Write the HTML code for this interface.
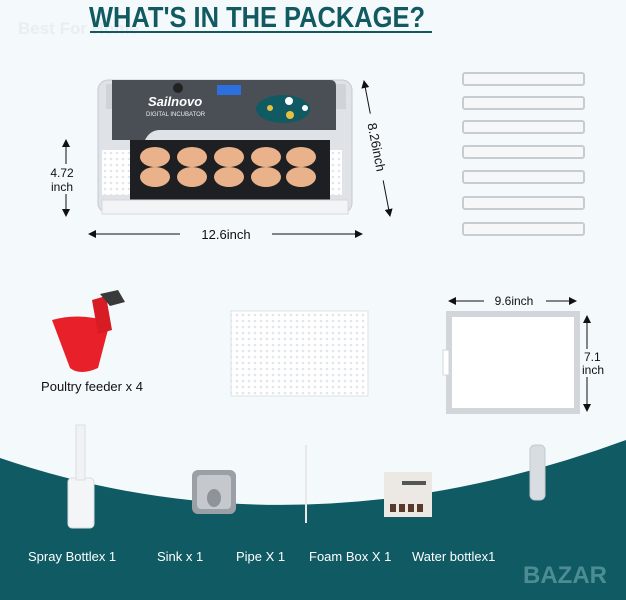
<!DOCTYPE html>
<html><head><meta charset="utf-8"><style>
body{margin:0;width:626px;height:600px;overflow:hidden;background:#f4f9fc;font-family:"Liberation Sans",sans-serif}
svg{display:block}
</style></head><body>
<svg width="626" height="600" viewBox="0 0 626 600" xmlns="http://www.w3.org/2000/svg" font-family="Liberation Sans, sans-serif">
<defs>
<marker id="a" markerWidth="8" markerHeight="8" refX="7" refY="4" orient="auto-start-reverse"><path d="M0,0 L8,4 L0,8 Z" fill="#111"/></marker>
<pattern id="g" width="6" height="6" patternUnits="userSpaceOnUse"><rect width="6" height="6" fill="#fff"/><circle cx="3" cy="3" r="1.3" fill="#e2e6ea"/></pattern>
</defs>
<rect width="626" height="600" fill="#f4f9fc"/>
<text x="18" y="34" font-size="17" font-weight="bold" fill="#e9eef1">Best For Home</text>
<text x="257" y="27" text-anchor="middle" font-size="29" font-weight="bold" fill="#125a62" textLength="336" lengthAdjust="spacingAndGlyphs">WHAT'S IN THE PACKAGE?</text>
<rect x="90" y="31" width="342" height="2" fill="#125a62"/>
<!-- band -->
<path d="M0 458 Q300 560 626 440 L626 600 L0 600Z" fill="#0f5a63"/>
<!-- incubator -->
<rect x="98" y="80" width="254" height="133" rx="10" fill="#dfe3e7" stroke="#c4cad0"/>
<rect x="106" y="84" width="240" height="25" fill="#cfd4d9"/>
<path d="M112 80 H330 Q336 80 336 86 V130 H160 Q150 130 145 140 H112Z" fill="#4a4f56"/>
<rect x="217" y="85" width="24" height="10" fill="#2e6fe0"/>
<circle cx="178" cy="88" r="5" fill="#222"/>
<text x="148" y="106" font-size="13" font-style="italic" font-weight="bold" fill="#fff">Sailnovo</text>
<text x="146" y="116" font-size="6" fill="#eee">DIGITAL INCUBATOR</text>
<ellipse cx="283" cy="109" rx="27" ry="14" fill="#0f5a63"/>
<circle cx="289" cy="101" r="4" fill="#fff"/><circle cx="290" cy="115" r="4" fill="#e8c040"/><circle cx="270" cy="108" r="3" fill="#e8c040"/><circle cx="305" cy="108" r="3" fill="#fff"/>
<rect x="102" y="150" width="240" height="45" fill="url(#g)"/>
<rect x="130" y="140" width="200" height="60" fill="#1e1f22"/>
<g fill="#eab28a">
<ellipse cx="155" cy="157" rx="15" ry="10"/><ellipse cx="192" cy="157" rx="15" ry="10"/><ellipse cx="229" cy="157" rx="15" ry="10"/><ellipse cx="266" cy="157" rx="15" ry="10"/><ellipse cx="301" cy="157" rx="15" ry="10"/>
<ellipse cx="155" cy="177" rx="15" ry="10"/><ellipse cx="192" cy="177" rx="15" ry="10"/><ellipse cx="229" cy="177" rx="15" ry="10"/><ellipse cx="266" cy="177" rx="15" ry="10"/><ellipse cx="301" cy="177" rx="15" ry="10"/>
</g>
<rect x="102" y="200" width="246" height="14" fill="#f2f4f6" stroke="#d5d9dd"/>
<line x1="66" y1="140" x2="66" y2="216" stroke="#111" marker-start="url(#a)" marker-end="url(#a)"/>
<rect x="46" y="164" width="34" height="30" fill="#f4f9fc"/>
<text x="62" y="177" text-anchor="middle" font-size="12" fill="#111">4.72</text>
<text x="62" y="191" text-anchor="middle" font-size="12" fill="#111">inch</text>
<line x1="89" y1="234" x2="362" y2="234" stroke="#111" marker-start="url(#a)" marker-end="url(#a)"/>
<rect x="180" y="225" width="92" height="18" fill="#f4f9fc"/>
<text x="226" y="239" text-anchor="middle" font-size="13" fill="#111">12.6inch</text>
<line x1="364" y1="81" x2="390" y2="216" stroke="#111" marker-start="url(#a)" marker-end="url(#a)"/>
<g transform="translate(377,147) rotate(79)"><rect x="-34" y="-9" width="68" height="17" fill="#f4f9fc"/><text x="0" y="5" text-anchor="middle" font-size="13" fill="#111">8.26inch</text></g>
<!-- bars -->
<g fill="#f6f7f8" stroke="#c7ccd1" stroke-width="2">
<rect x="463" y="73" width="121" height="12" rx="2"/><rect x="463" y="97" width="121" height="12" rx="2"/><rect x="463" y="121" width="121" height="12" rx="2"/><rect x="463" y="146" width="121" height="12" rx="2"/><rect x="463" y="171" width="121" height="12" rx="2"/><rect x="463" y="197" width="121" height="12" rx="2"/><rect x="463" y="223" width="121" height="12" rx="2"/>
</g>
<!-- feeder -->
<path d="M52 320 Q80 312 110 322 L98 368 Q80 376 70 368Z" fill="#e8202a"/>
<path d="M92 300 L106 296 L112 330 L98 334Z" fill="#d81c24"/>
<path d="M100 294 L118 290 L125 302 L110 306Z" fill="#3a3a3a"/>
<text x="92" y="391" text-anchor="middle" font-size="13" fill="#111">Poultry feeder x 4</text>
<!-- grid tray -->
<rect x="231" y="311" width="137" height="85" fill="url(#g)" stroke="#dde1e5"/>
<!-- frame -->
<rect x="449" y="314" width="128" height="97" fill="#fff" stroke="#d2d6da" stroke-width="6"/>
<rect x="443" y="350" width="6" height="25" fill="#fff" stroke="#d2d6da"/>
<line x1="449" y1="301" x2="576" y2="301" stroke="#111" marker-start="url(#a)" marker-end="url(#a)"/>
<rect x="484" y="292" width="62" height="17" fill="#f4f9fc"/>
<text x="514" y="305" text-anchor="middle" font-size="12" fill="#111">9.6inch</text>
<line x1="587" y1="316" x2="587" y2="411" stroke="#111" marker-start="url(#a)" marker-end="url(#a)"/>
<rect x="580" y="349" width="30" height="28" fill="#f4f9fc"/>
<text x="584" y="361" font-size="12" fill="#111">7.1</text>
<text x="582" y="374" font-size="12" fill="#111">inch</text>
<!-- bottom items -->
<rect x="68" y="478" width="26" height="50" rx="4" fill="#f3f5f7" stroke="#d8dce0"/>
<rect x="76" y="425" width="9" height="55" fill="#f0f2f4" stroke="#dcdfe2"/>
<rect x="192" y="470" width="44" height="44" rx="6" fill="#9aa0a5"/>
<rect x="197" y="475" width="34" height="34" rx="4" fill="#c5c9cd"/>
<ellipse cx="214" cy="498" rx="7" ry="9" fill="#8d9398"/>
<line x1="306" y1="445" x2="306" y2="523" stroke="#e8e8e8" stroke-width="2"/>
<rect x="384" y="472" width="48" height="45" fill="#ece9e4"/>
<rect x="390" y="504" width="6" height="8" fill="#5a3a2a"/><rect x="399" y="504" width="6" height="8" fill="#5a3a2a"/><rect x="408" y="504" width="6" height="8" fill="#5a3a2a"/><rect x="417" y="504" width="6" height="8" fill="#5a3a2a"/>
<rect x="402" y="481" width="24" height="4" fill="#555"/>
<rect x="530" y="445" width="15" height="55" rx="5" fill="#d8dde1" stroke="#c4c9ce"/>
<g font-size="13" fill="#fff">
<text x="28" y="561">Spray Bottlex 1</text>
<text x="157" y="561">Sink x 1</text>
<text x="236" y="561">Pipe X 1</text>
<text x="309" y="561">Foam Box X 1</text>
<text x="412" y="561">Water bottlex1</text>
</g>
<text x="565" y="583" text-anchor="middle" font-size="24" font-weight="bold" fill="#5a9aa0" opacity="0.8">BAZAR</text>
</svg>
</body></html>
